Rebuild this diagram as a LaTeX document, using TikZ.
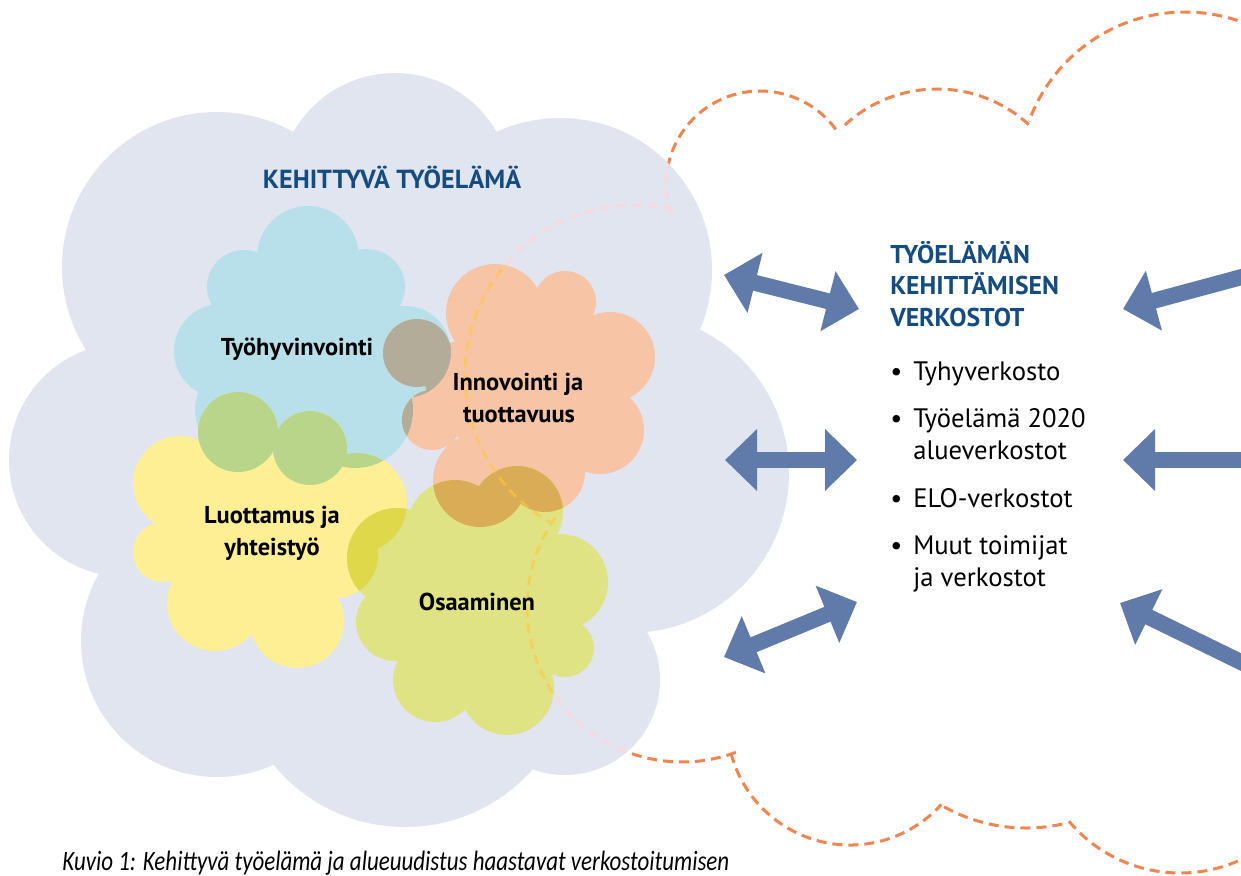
\documentclass[tikz,border=0pt]{standalone}
\usepackage{fontspec}
\setmainfont{PT Sans}
\newfontfamily\capfont[FakeStretch=0.82]{Carlito}
\usetikzlibrary{arrows.meta}

\definecolor{greycloud}{RGB}{225,229,240}
\definecolor{dashorange}{RGB}{240,133,80}
\definecolor{dashpink}{RGB}{248,218,222}
\definecolor{faintdash}{RGB}{255,200,60}
\definecolor{wellblue}{HTML}{B8E0EA}
\definecolor{innoorange}{HTML}{F8C4A6}
\definecolor{trustyellow}{HTML}{FEEF94}
\definecolor{skillolive}{HTML}{E0E384}
\definecolor{bluyel}{HTML}{B8D58A}
\definecolor{bluora}{HTML}{B2AC98}
\definecolor{oraoli}{HTML}{DAAC55}
\definecolor{yeloli}{HTML}{DED84A}
\definecolor{headblue}{RGB}{20,75,128}
\definecolor{arrowblue}{RGB}{96,123,170}

% pilvet ympyröiden unionina
\newcommand{\cloudbig}{(217,267) circle (155) (395,190) circle (117) (560,270) circle (152) (629,473) circle (160) (565,680) circle (95) (405,657) circle (170) (217,641) circle (136) (126,460) circle (117) (400,450) circle (240)}
\newcommand{\cloudwell}{(308,257) circle (51) (244,287) circle (37) (367,287) circle (38) (221,351) circle (47) (405,352) circle (46) (245,410) circle (50) (238,432) circle (40) (310,448) circle (37) (355,410) circle (58) (305,350) circle (75)}
\newcommand{\cloudinno}{(495,313) circle (49) (565,302) circle (31) (560,340) circle (36) (610,357) circle (45) (600,430) circle (44) (545,472) circle (40) (480,480) circle (47) (432,420) circle (30) (417,353) circle (34) (465,380) circle (40) (520,395) circle (75)}
\newcommand{\cloudtrust}{(180,483) circle (47) (238,432) circle (40) (310,448) circle (37) (357,503) circle (50) (163,552) circle (30) (200,530) circle (45) (215,603) circle (48) (297,621) circle (47) (335,555) circle (43) (265,530) circle (75)}
\newcommand{\cloudskill}{(397,558) circle (50) (455,528) circle (48) (517,512) circle (46) (560,582) circle (48) (565,648) circle (29) (507,688) circle (47) (435,680) circle (42) (395,622) circle (39) (480,600) circle (75)}
% katkoviivapilvi
\newcommand{\dashcloud}{
  ([shift={(-55:166)}]1185,178) arc[start angle=-55, end angle=-160, radius=166]
  ([shift={(-47.6:136)}]937,225) arc[start angle=-47.6, end angle=-135, radius=136]
  ([shift={(-36.3:94)}]760,185) arc[start angle=-36.3, end angle=-197.8, radius=94]
  ([shift={(-76.8:170)}]635,375) arc[start angle=-76.8, end angle=-240.6, radius=170]
  ([shift={(215.3:155)}]682,607) arc[start angle=215.3, end angle=69.6, radius=155]
  ([shift={(165.3:123)}]850,722) arc[start angle=165.3, end angle=42.1, radius=123]
  ([shift={(119:169)}]1026,659) arc[start angle=119, end angle=76, radius=169]
  ([shift={(140:145)}]1180,728) arc[start angle=140, end angle=10, radius=145]}

\tikzset{
  dashline/.style={draw=dashorange, line width=2.25pt, dash pattern=on 7.5pt off 4.5pt},
  headline/.style={font=\fontsize{19.6}{24}\selectfont\bfseries, text=headblue, inner sep=0pt, anchor=base},
  nethead/.style={font=\fontsize{19.3}{24}\selectfont\bfseries, text=headblue, inner sep=0pt, anchor=base west},
  cloudlabel/.style={font=\fontsize{18.3}{24}\selectfont\bfseries, inner sep=0pt, anchor=base},
  netitem/.style={font=\fontsize{20}{24}\selectfont, inner sep=0pt, anchor=base west},
  twoway/.style={line width=12pt, draw=arrowblue, {Triangle[width=45pt,length=24pt]}-{Triangle[width=45pt,length=24pt]}},
  oneway/.style={line width=12pt, draw=arrowblue, -{Triangle[width=45pt,length=24pt]}}
}

\begin{document}
\begin{tikzpicture}[x=0.75pt, y=-0.75pt]
  \useasboundingbox (0,0) rectangle (1241,875);
  \clip (0,0) rectangle (1241,875);

  % verkostojen pilvi ja iso pilvi
  \draw[dashline] \dashcloud;
  \fill[greycloud] \cloudbig;
  \begin{scope}
    \clip \cloudbig;
    \draw[dashline, draw=dashpink] \dashcloud;
  \end{scope}

  % osa-alueet
  \fill[wellblue] \cloudwell;
  \fill[innoorange] \cloudinno;
  \fill[trustyellow] \cloudtrust;
  \fill[skillolive] \cloudskill;
  \begin{scope}
    \clip \cloudwell;
    \fill[bluyel] \cloudtrust;
    \fill[bluora] \cloudinno;
  \end{scope}
  \begin{scope}
    \clip \cloudskill;
    \fill[oraoli] \cloudinno;
    \fill[yeloli] \cloudtrust;
  \end{scope}
  \begin{scope}
    \clip \cloudwell \cloudinno \cloudtrust \cloudskill;
    \draw[dashline, draw=faintdash, draw opacity=0.6] \dashcloud;
  \end{scope}

  % tekstit
  \node[headline] (devwork) at (392,188) {KEHITTYVÄ TYÖELÄMÄ};
  \node[cloudlabel] (well) at (297,355) {Työhyvinvointi};
  \node[cloudlabel] (innoa) at (518,390) {Innovointi ja};
  \node[cloudlabel] (innob) at (519,422) {tuottavuus};
  \node[cloudlabel] (trusta) at (272,523) {Luottamus ja};
  \node[cloudlabel] (trustb) at (272,555) {yhteistyö};
  \node[cloudlabel] (skill) at (477,610) {Osaaminen};

  \node[nethead] (neta) at (890,263) {TYÖELÄMÄN};
  \node[nethead] (netb) at (890,294) {KEHITTÄMISEN};
  \node[nethead] (netc) at (890,326) {VERKOSTOT};
  \node[netitem] (itema) at (890,380) {\makebox[17.25pt][l]{\textbullet}Tyhyverkosto};
  \node[netitem] (itemb) at (890,427) {\makebox[17.25pt][l]{\textbullet}Työelämä 2020};
  \node[netitem] (itemc) at (913,459) {alueverkostot};
  \node[netitem] (itemd) at (890,507) {\makebox[17.25pt][l]{\textbullet}ELO-verkostot};
  \node[netitem] (iteme) at (890,554) {\makebox[17.25pt][l]{\textbullet}Muut toimijat};
  \node[netitem] (itemf) at (913,586) {ja verkostot};

  \node[font=\fontsize{21}{24}\capfont\itshape, inner sep=0pt, anchor=base west] (caption) at (62,870)
    {Kuvio 1: Kehittyvä työelämä ja alueuudistus haastavat verkostoitumisen};

  % nuolet
  \coordinate (wa) at (724,275);  \coordinate (na) at (859,309);
  \coordinate (wb) at (725,460);  \coordinate (nb) at (857,460);
  \coordinate (wc) at (724,657);  \coordinate (nc) at (857,602);
  \coordinate (ra) at (1290,264); \coordinate (ta) at (1123,309);
  \coordinate (rb) at (1290,460); \coordinate (tb) at (1123,460);
  \coordinate (rc) at (1290,686); \coordinate (tc) at (1120,603);
  \draw[twoway] (wa) -- (na);
  \draw[twoway] (wb) -- (nb);
  \draw[twoway] (wc) -- (nc);
  \draw[oneway] (ra) -- (ta);
  \draw[oneway] (rb) -- (tb);
  \draw[oneway] (rc) -- (tc);
\end{tikzpicture}
\end{document}
